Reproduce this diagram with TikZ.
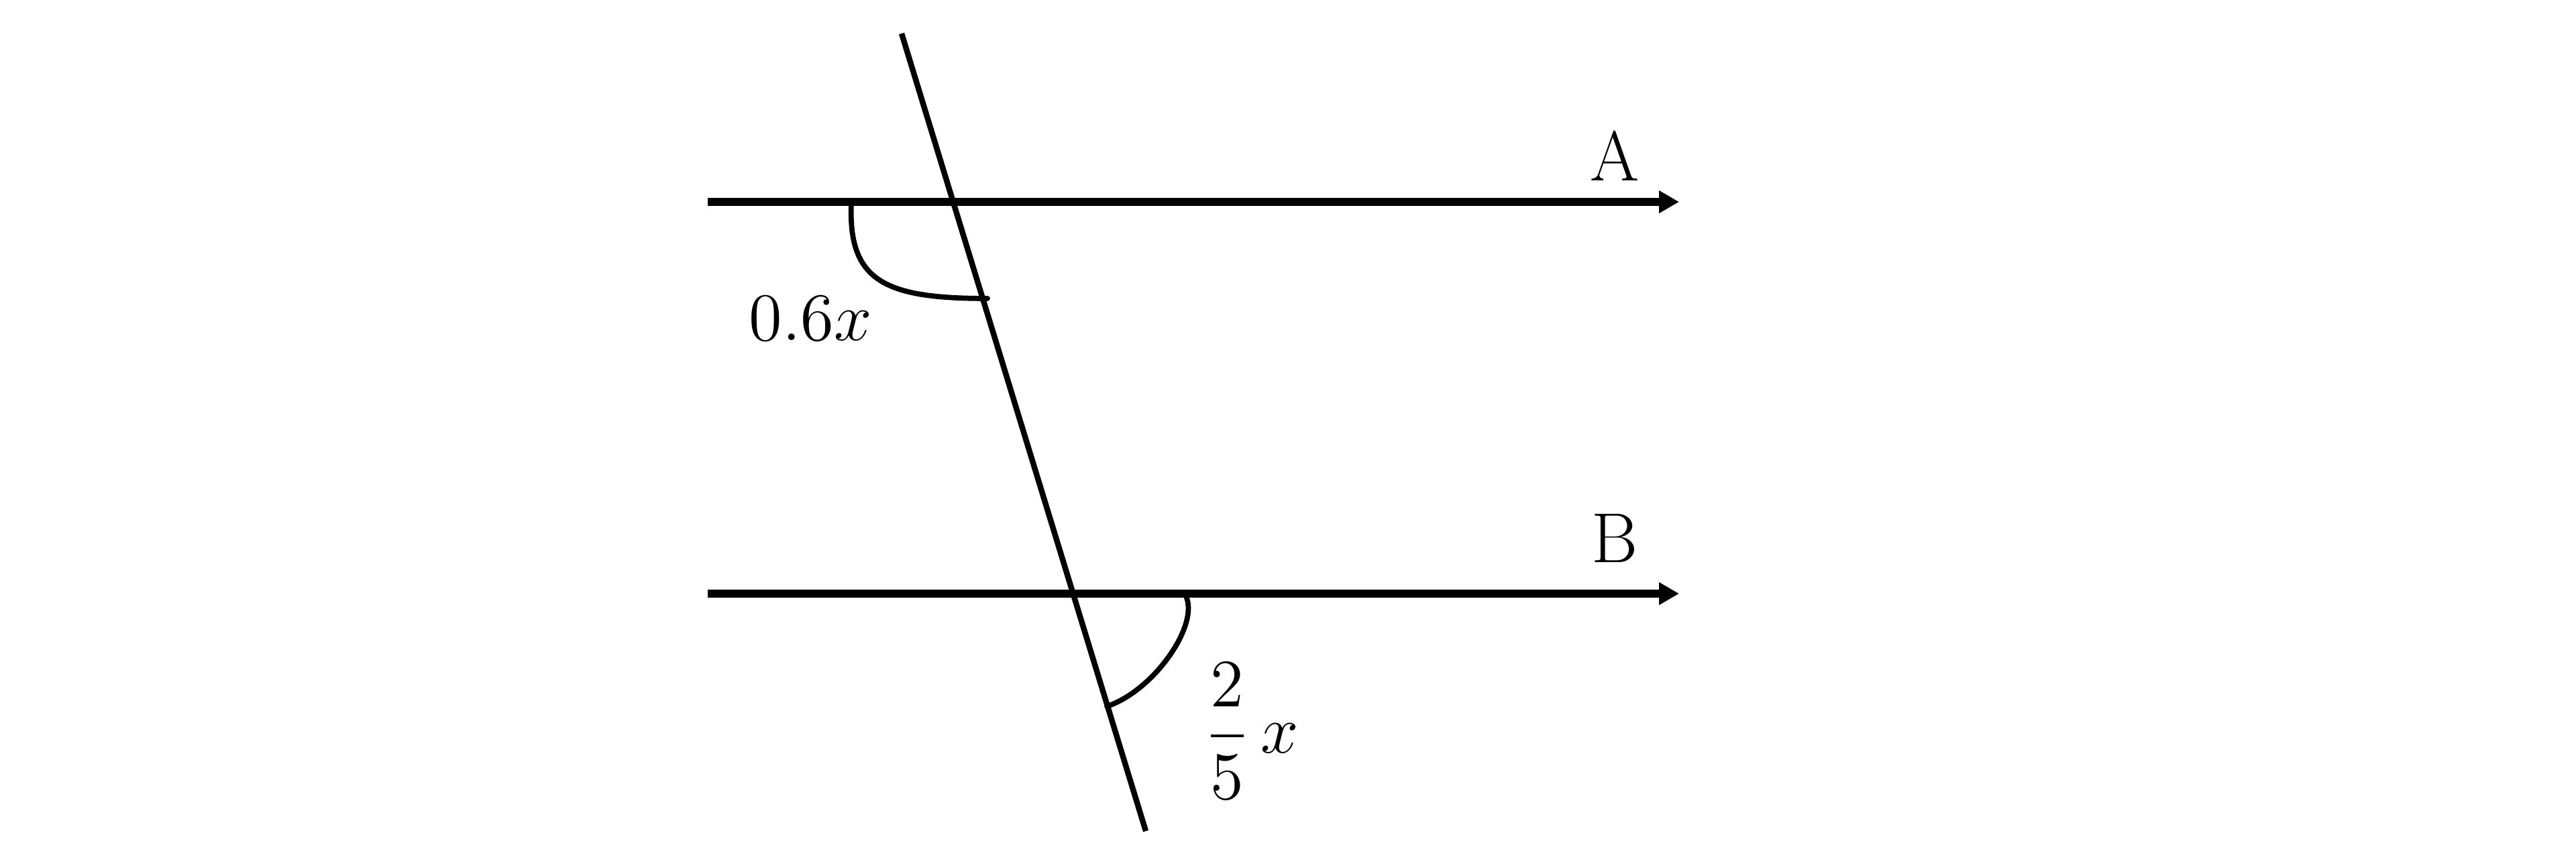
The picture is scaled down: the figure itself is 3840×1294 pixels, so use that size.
\documentclass[tikz,border=0pt]{standalone}
\usepackage{amsmath}
\usetikzlibrary{arrows.meta}
\tikzstyle{parallel_line}=[line width=1.7pt,
                             -{Triangle[length=1.5mm, width=1.6mm]}]
\tikzstyle{cross_line}=[line width=1.2pt]
\tikzstyle{angle_arc}=[line width=1.1pt, line cap=round]
\tikzstyle{angle_label}=[inner sep=0pt,
                             font=\fontsize{15}{18}\selectfont]

\begin{document}
\begin{tikzpicture}[x=0.05mm, y=-0.05mm]
    \useasboundingbox (0,0) rectangle (3840,1294);

    \coordinate (A1) at (1055, 301);
    \coordinate (A2) at (2503, 301);
    \coordinate (B1) at (1055, 885);
    \coordinate (B2) at (2503, 885);
    \coordinate (T1) at (1344, 50);
    \coordinate (T2) at (1708, 1239);

    \draw[parallel_line] (A1) -- (A2);
    \draw[parallel_line] (B1) -- (B2);
    \draw[cross_line] (T1) -- (T2);

    \node at (2407, 232) (LA) [angle_label] {A};
    \node at (2407, 803) (LB) [angle_label] {B};

    % angle marks
    \coordinate (P1) at (1269, 303);
    \coordinate (Q1) at (1472, 445);
    \draw[angle_arc] (P1) .. controls (1264, 420) and (1320, 445) .. (Q1);
    \node at (1208, 475) (L1) [angle_label] {$0.6x$};

    \coordinate (P2) at (1767, 887);
    \coordinate (Q2) at (1650, 1053);
    \draw[angle_arc] (P2) .. controls (1790, 930) and (1720, 1030) .. (Q2);
    \node at (1866, 1090) (L2) [angle_label] {$\dfrac{2}{5}\,x$};
\end{tikzpicture}
\end{document}
